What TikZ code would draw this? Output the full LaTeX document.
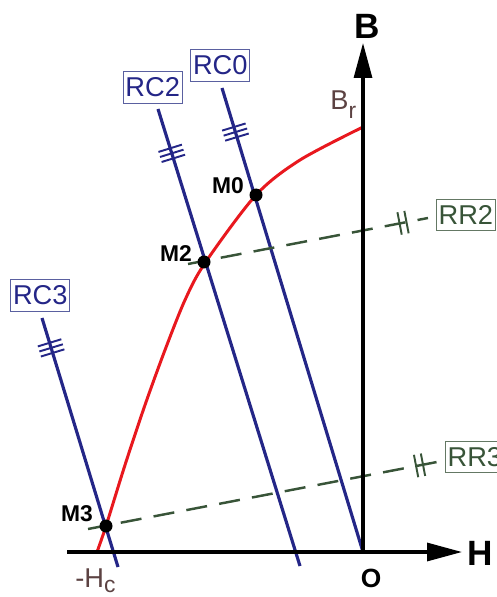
\documentclass[tikz,border=0pt]{standalone}
\usepackage{fontspec}
\setmainfont{Liberation Sans}
\usetikzlibrary{arrows.meta,decorations.markings,positioning}

\definecolor{rcblue}{RGB}{36,38,135}
\definecolor{rcframe}{RGB}{90,96,160}
\definecolor{rrgreen}{RGB}{56,84,56}
\definecolor{rrframe}{RGB}{100,120,100}
\definecolor{loopred}{RGB}{232,24,30}
\definecolor{labbrown}{RGB}{92,66,66}

\begin{document}
\begin{tikzpicture}[x=0.02cm,y=-0.02cm,
  every node/.style={font=\fontsize{15.5}{17}\selectfont},
  axis/.style={line width=1.8pt,-{Triangle[length=0.7cm,width=0.36cm]}},
  axlbl/.style={font=\fontsize{20}{22}\selectfont\bfseries},
  rcline/.style={rcblue,line width=1.8pt},
  rrline/.style={rrgreen,line width=1.4pt,dash pattern=on 12pt off 7pt},
  hyst/.style={loopred,line width=1.7pt},
  tickthree/.style={postaction={decorate,decoration={markings,
    mark=at position #1 with {\draw[rcblue,solid,line width=1.1pt]
      (-3pt,-7pt)--(-3pt,7pt) (0pt,-7pt)--(0pt,7pt) (3pt,-7pt)--(3pt,7pt);}}}},
  ticktwo/.style={postaction={decorate,decoration={markings,
    mark=at position #1 with {\draw[rrgreen,solid,line width=1.1pt]
      (-2pt,-6.5pt)--(-2pt,6.5pt) (2pt,-6.5pt)--(2pt,6.5pt);}}}},
  rcbox/.style={draw=rcframe,line width=0.6pt,text=rcblue,inner xsep=1.2pt,
                inner ysep=0pt,minimum height=0.64cm},
  rrbox/.style={draw=rrframe,line width=0.6pt,text=rrgreen,inner xsep=1.2pt,
                inner ysep=0pt,minimum height=0.62cm},
  dot/.style={circle,fill=black,inner sep=0pt,minimum size=0.26cm},
  mlbl/.style={font=\fontsize{13}{15}\selectfont\bfseries}
]
\useasboundingbox (0,0) rectangle (496,597);

\coordinate (O) at (363,552);
\coordinate (hstart) at (67,552);
\coordinate (hend) at (462,552);
\coordinate (bend) at (363,43);

\draw[hyst] plot[smooth] coordinates {(97,552) (106,526) (125,465) (145,405)
  (165,350) (185,300) (205,263) (256,195) (300,160) (363,127)};

\coordinate (rc0a) at (222,88);
\coordinate (rc2a) at (158,109);
\coordinate (rc2b) at (300,566);
\coordinate (rc3a) at (42,318);
\coordinate (rc3b) at (118,567);
\draw[rcline,tickthree=0.095] (rc0a) -- (O);
\draw[rcline,tickthree=0.097] (rc2a) -- (rc2b);
\draw[rcline,tickthree=0.12] (rc3a) -- (rc3b);

\node[rcbox,above=0.12cm of rc0a,xshift=-1pt] (RC0) {RC0};
\node[rcbox,above=0.1cm of rc2a,xshift=-3pt] (RC2) {RC2};
\node[rcbox,above=0.12cm of rc3a,xshift=-1pt] (RC3) {RC3};

\coordinate (rr2a) at (188,264);
\coordinate (rr2b) at (428,218);
\coordinate (rr3a) at (88,529);
\coordinate (rr3b) at (437,462);
\draw[rrline,ticktwo=0.896] (rr2a) -- (rr2b);
\draw[rrline,ticktwo=0.95] (rr3a) -- (rr3b);

\node[rrbox,right=0.16cm of rr2b,anchor=west,yshift=1.7pt] (RR2) {RR2};
\node[rrbox,right=0.16cm of rr3b,anchor=west,yshift=2.8pt] (RR3) {RR3};

\draw[axis] (hstart) -- (hend);
\draw[axis] (O) -- (bend);

\node[axlbl] (H) at (480,553) {H};
\node[axlbl] (B) at (367,26) {B};
\node[font=\fontsize{15}{17}\selectfont\bfseries] (Olbl) at (371,578) {O};
\node[anchor=base west,text=labbrown,inner sep=0pt] (Br) at (330,110)
  {B\raisebox{-5pt}{\fontsize{13}{13}\selectfont r}};
\node[anchor=base west,text=labbrown,inner sep=0pt] (Hc) at (75,587)
  {-H\raisebox{-3pt}{\fontsize{13}{13}\selectfont c}};

\node[dot] (M0) at (256,195) {};
\node[dot] (M2) at (204,262) {};
\node[dot] (M3) at (106,526) {};
\node[mlbl] at (228,186) {M0};
\node[mlbl] at (176,254) {M2};
\node[mlbl] at (77,514) {M3};
\end{tikzpicture}
\end{document}
